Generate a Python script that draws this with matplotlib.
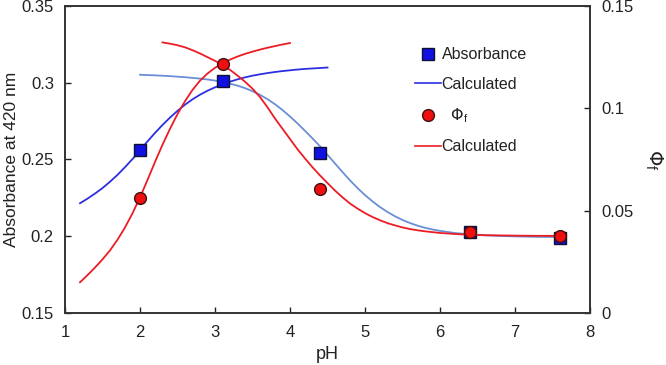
import matplotlib
matplotlib.use("Agg")
import matplotlib.pyplot as plt
from matplotlib.lines import Line2D

plt.rcParams['font.family'] = ['Liberation Sans', 'DejaVu Sans']

# measured points
ph_meas = [2.0, 3.1, 4.4, 6.4, 7.6]
absorbance = [0.256, 0.301, 0.254, 0.203, 0.199]
phi_f = [0.056, 0.1216, 0.0605, 0.0398, 0.0376]

# calculated curves
ph_abs_rise = [1.2, 1.3, 1.4, 1.5, 1.6, 1.7, 1.8, 1.9, 2.0, 2.1, 2.2, 2.3, 2.4, 2.5, 2.6,
               2.7, 2.8, 2.9, 3.0, 3.1, 3.2, 3.3, 3.4, 3.5, 3.6, 3.7, 3.8, 3.9, 4.0, 4.1,
               4.2, 4.3, 4.4, 4.5]
abs_rise = [0.2215, 0.2245, 0.2278, 0.2314, 0.2355, 0.2400, 0.2450, 0.2503, 0.2560, 0.2618,
            0.2673, 0.2725, 0.2773, 0.2817, 0.2857, 0.2892, 0.2922, 0.2948, 0.2970, 0.2990,
            0.3007, 0.3022, 0.3035, 0.3046, 0.3055, 0.3063, 0.3070, 0.3076, 0.3081, 0.3086,
            0.3090, 0.3093, 0.3096, 0.3099]

ph_abs_fall = [2.0, 2.2, 2.4, 2.6, 2.8, 2.9, 3.0, 3.1, 3.2, 3.3, 3.4, 3.5, 3.6, 3.7, 3.8,
               3.9, 4.0, 4.1, 4.2, 4.3, 4.4, 4.5, 4.6, 4.7, 4.8, 4.9, 5.0, 5.1, 5.2, 5.3,
               5.4, 5.5, 5.6, 5.7, 5.8, 5.9, 6.0, 6.2, 6.4, 6.6, 6.8, 7.0, 7.3, 7.6]
abs_fall = [0.3052, 0.3048, 0.3043, 0.3036, 0.3027, 0.3021, 0.3014, 0.3005, 0.2994, 0.2981,
            0.2965, 0.2945, 0.2921, 0.2893, 0.2860, 0.2822, 0.2780, 0.2735, 0.2687, 0.2637,
            0.2586, 0.2530, 0.2474, 0.2418, 0.2364, 0.2314, 0.2268, 0.2227, 0.2190, 0.2158,
            0.2130, 0.2106, 0.2086, 0.2069, 0.2055, 0.2044, 0.2035, 0.2021, 0.2012, 0.2006,
            0.2002, 0.1999, 0.1996, 0.1995]

ph_phi_rise = [1.2, 1.3, 1.4, 1.5, 1.6, 1.7, 1.8, 1.9, 2.0, 2.1, 2.2, 2.3, 2.4, 2.5, 2.6,
               2.7, 2.8, 2.9, 3.0, 3.1, 3.2, 3.3, 3.4, 3.5, 3.6, 3.7, 3.8, 3.9, 4.0]
phi_rise = [0.0150, 0.0185, 0.0222, 0.0262, 0.0306, 0.0358, 0.0418, 0.0487, 0.0565, 0.0650,
            0.0738, 0.0822, 0.0900, 0.0972, 0.1035, 0.1090, 0.1135, 0.1170, 0.1198, 0.1220,
            0.1238, 0.1253, 0.1266, 0.1277, 0.1287, 0.1296, 0.1304, 0.1312, 0.1319]

ph_phi_fall = [2.3, 2.4, 2.5, 2.6, 2.7, 2.8, 2.9, 3.0, 3.1, 3.2, 3.3, 3.4, 3.5, 3.6, 3.7,
               3.8, 3.9, 4.0, 4.1, 4.2, 4.3, 4.4, 4.5, 4.6, 4.7, 4.8, 4.9, 5.0, 5.1, 5.2,
               5.3, 5.4, 5.5, 5.6, 5.7, 5.8, 6.0, 6.2, 6.4, 6.6, 6.8, 7.0, 7.3, 7.6]
phi_fall = [0.1322, 0.1316, 0.1308, 0.1298, 0.1284, 0.1268, 0.1250, 0.1232, 0.1212, 0.1188,
            0.1160, 0.1130, 0.1096, 0.1055, 0.1005, 0.0950, 0.0900, 0.0850, 0.0800, 0.0755,
            0.0712, 0.0672, 0.0635, 0.0598, 0.0565, 0.0535, 0.0510, 0.0488, 0.0469, 0.0453,
            0.0439, 0.0428, 0.0418, 0.0410, 0.0404, 0.0399, 0.0391, 0.0386, 0.0382, 0.0380,
            0.0379, 0.0378, 0.0377, 0.0377]

dark_blue = "#2b2fe0"
light_blue = "#6a8fd6"
red = "#ec1c24"
txt = "#222222"

fig = plt.figure(figsize=(6.66, 3.65), dpi=100)
ax = fig.add_axes([0.0976, 0.1425, 0.7883, 0.8411])
ax2 = ax.twinx()

ax.plot(ph_abs_rise, abs_rise, color=dark_blue, lw=1.3, zorder=2)
ax.plot(ph_abs_fall, abs_fall, color=light_blue, lw=1.3, zorder=2)
ax2.plot(ph_phi_rise, phi_rise, color=red, lw=1.3, zorder=2)
ax2.plot(ph_phi_fall, phi_fall, color=red, lw=1.3, zorder=2)

ax.plot(ph_meas, absorbance, ls="none", marker="s", ms=8.5, mfc="#1010e0", mec="#101030",
        mew=1.0, zorder=3)
ax2.plot(ph_meas, phi_f, ls="none", marker="o", ms=8.5, mfc="#ee1010", mec="#401010",
         mew=1.0, zorder=4)

ax.set_xlim(1, 8)
ax.set_ylim(0.15, 0.35)
ax2.set_ylim(0, 0.15)
ax.set_xticks(range(1, 9))
ax.set_yticks([0.15, 0.2, 0.25, 0.3, 0.35])
ax.set_yticklabels(["0.15", "0.2", "0.25", "0.3", "0.35"])
ax2.set_yticks([0, 0.05, 0.1, 0.15])
ax2.set_yticklabels(["0", "0.05", "0.1", "0.15"])

for a in (ax, ax2):
    a.tick_params(direction="in", length=4, width=1, labelsize=12, colors=txt, pad=8)
    for s in a.spines.values():
        s.set_color("#333333")
        s.set_linewidth(1.2)
ax.tick_params(axis="x", pad=9)

ax.set_xlabel("pH", fontsize=13, color=txt, labelpad=4)
ax.set_ylabel("Absorbance at 420 nm", fontsize=12.5, color=txt, labelpad=1.5)
ax2.set_ylabel(r"$\Phi_\mathregular{f}$", fontsize=14, rotation=270, labelpad=22, color=txt)

handles = [
    Line2D([], [], ls="none", marker="s", ms=8.5, mfc="#1010e0", mec="#101030"),
    Line2D([], [], color=dark_blue, lw=1.2),
    Line2D([], [], ls="none", marker="o", ms=8.5, mfc="#ee1010", mec="#401010"),
    Line2D([], [], color=red, lw=1.2),
]
labels = ["Absorbance", "Calculated", r"  $\Phi_\mathregular{f}$", "Calculated"]
leg = ax.legend(handles, labels, loc="upper left", bbox_to_anchor=(0.64, 0.912), frameon=False,
                fontsize=11.5, handlelength=1.6, handletextpad=0.05, labelspacing=0.9)
for t in leg.get_texts():
    t.set_color(txt)

fig.savefig("out.png", dpi=100)
